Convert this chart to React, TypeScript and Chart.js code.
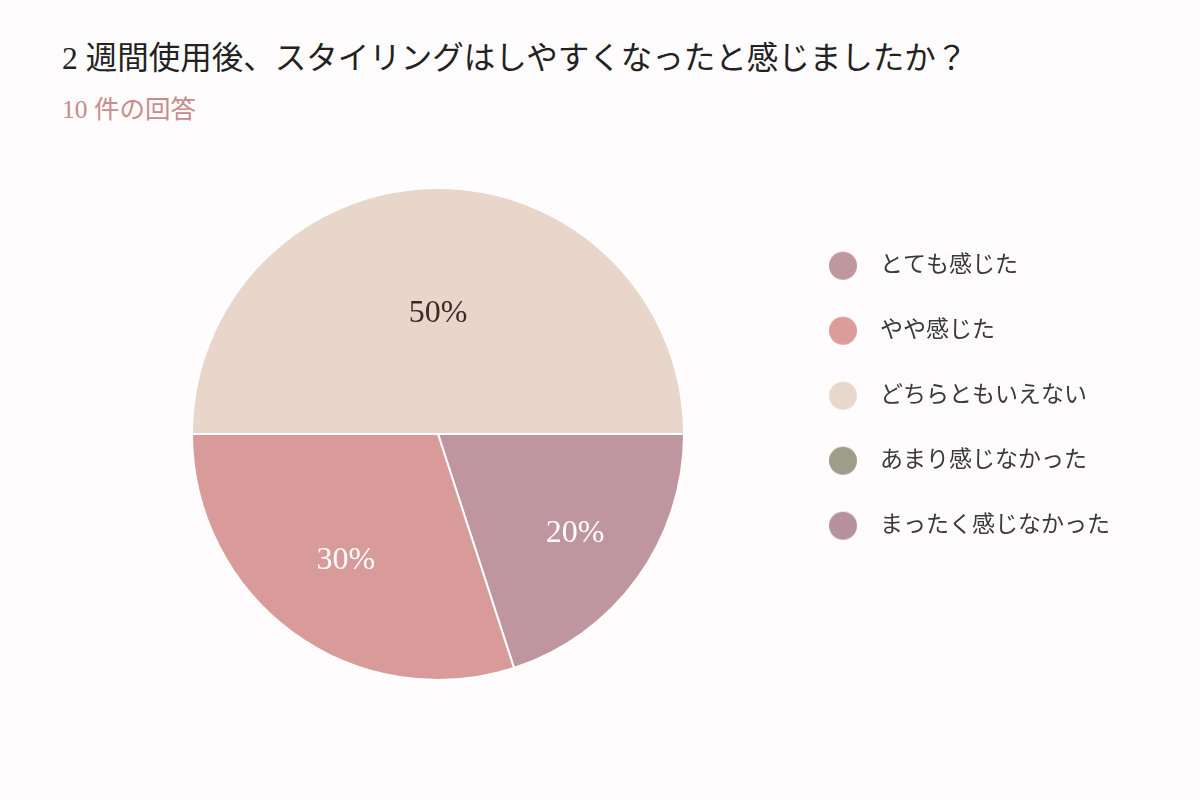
import React, { useEffect, useRef } from "react";
import { Chart, registerables } from "chart.js";

Chart.register(...registerables);

const TITLE = "2 週間使用後、スタイリングはしやすくなったと感じましたか？";
const SUBTITLE = "10 件の回答";
const labels = ["とても感じた", "やや感じた", "どちらともいえない", "あまり感じなかった", "まったく感じなかった"];
const counts = [2, 3, 5, 0, 0];
const sliceColors = ["#BF96A0", "#D99B99", "#E9D6CA", "#9E9D89", "#B8919F"];
const legendColors = ["#C0969F", "#DC9C9A", "#E8D7CB", "#9E9D89", "#B8919F"];

const BG = "#FEFCFD";
const FONT = "'Liberation Serif', 'Noto Sans CJK JP', serif";

function makeDot(color: string): HTMLCanvasElement {
  const c = document.createElement("canvas");
  c.width = 30;
  c.height = 30;
  const ctx = c.getContext("2d")!;
  ctx.fillStyle = color;
  ctx.beginPath();
  ctx.arc(15, 15, 14, 0, Math.PI * 2);
  ctx.fill();
  return c;
}

function isLight(hex: string) {
  const r = parseInt(hex.slice(1, 3), 16);
  const g = parseInt(hex.slice(3, 5), 16);
  const b = parseInt(hex.slice(5, 7), 16);
  return 0.299 * r + 0.587 * g + 0.114 * b > 190;
}

const pctLabels = {
  id: "pctLabels",
  afterDatasetsDraw(chart: any) {
    const meta = chart.getDatasetMeta(0);
    const data = chart.data.datasets[0].data as number[];
    const total = data.reduce((a: number, b: number) => a + b, 0);
    const ctx = chart.ctx;
    ctx.save();
    ctx.font = `32px ${FONT}`;
    ctx.textAlign = "center";
    ctx.textBaseline = "middle";
    meta.data.forEach((arc: any, i: number) => {
      const v = data[i];
      if (!v) return;
      const { x, y, startAngle, endAngle, outerRadius } = arc.getProps(
        ["x", "y", "startAngle", "endAngle", "outerRadius"],
        true
      );
      const mid = (startAngle + endAngle) / 2;
      const half = (endAngle - startAngle) / 2;
      const d = (2 * outerRadius * Math.sin(half)) / (3 * half) + 0.065 * outerRadius;
      const px = x + Math.cos(mid) * d;
      const py = y + Math.sin(mid) * d;
      ctx.fillStyle = isLight(sliceColors[i]) ? "#3A2A25" : "#FFFFFF";
      ctx.fillText(`${Math.round((v / total) * 100)}%`, px, py);
    });
    ctx.restore();
  },
};

export default function App() {
  const ref = useRef<HTMLCanvasElement>(null);

  useEffect(() => {
    if (!ref.current) return;
    const dots = legendColors.map(makeDot);
    const chart = new Chart(ref.current, {
      type: "pie",
      data: {
        labels,
        datasets: [
          {
            data: counts,
            backgroundColor: sliceColors,
            borderColor: "#FFFFFF",
            borderWidth: 2,
            hoverOffset: 0,
          },
        ],
      },
      options: {
        animation: false,
        responsive: false,
        rotation: 90,
        layout: { padding: { left: 100.5, top: 187, bottom: 119, right: 80 } },
        plugins: {
          tooltip: { enabled: false },
          legend: {
            position: "right",
            align: "start",
            title: { display: true, text: "", padding: 0, font: { size: 21 } },
            labels: {
              usePointStyle: true,
              pointStyleWidth: 51,
              padding: 42,
              color: "#3A3A3A",
              font: { family: FONT, size: 23 },
              generateLabels: (chart: any) => {
                const items = Chart.overrides.pie.plugins.legend.labels.generateLabels(chart);
                return items.map((it: any, i: number) => ({ ...it, pointStyle: dots[i] }));
              },
            },
          },
        },
      },
      plugins: [pctLabels],
    });
    return () => chart.destroy();
  }, []);

  return (
    <div
      style={{
        position: "absolute",
        left: 0,
        top: 0,
        width: 1200,
        height: 800,
        background: BG,
        overflow: "hidden",
      }}
    >
      <div
        style={{
          position: "absolute",
          left: 62,
          top: 40,
          fontFamily: FONT,
          fontSize: 31.5,
          lineHeight: "38px",
          color: "#222222",
          whiteSpace: "nowrap",
        }}
      >
        {TITLE}
      </div>
      <div
        style={{
          position: "absolute",
          left: 62,
          top: 95,
          fontFamily: FONT,
          fontSize: 25.5,
          lineHeight: "30px",
          color: "#C98B88",
          whiteSpace: "nowrap",
        }}
      >
        {SUBTITLE}
      </div>
      <canvas
        ref={ref}
        width={1200}
        height={800}
        style={{ position: "absolute", left: 0, top: 0, width: 1200, height: 800 }}
      />
    </div>
  );
}
